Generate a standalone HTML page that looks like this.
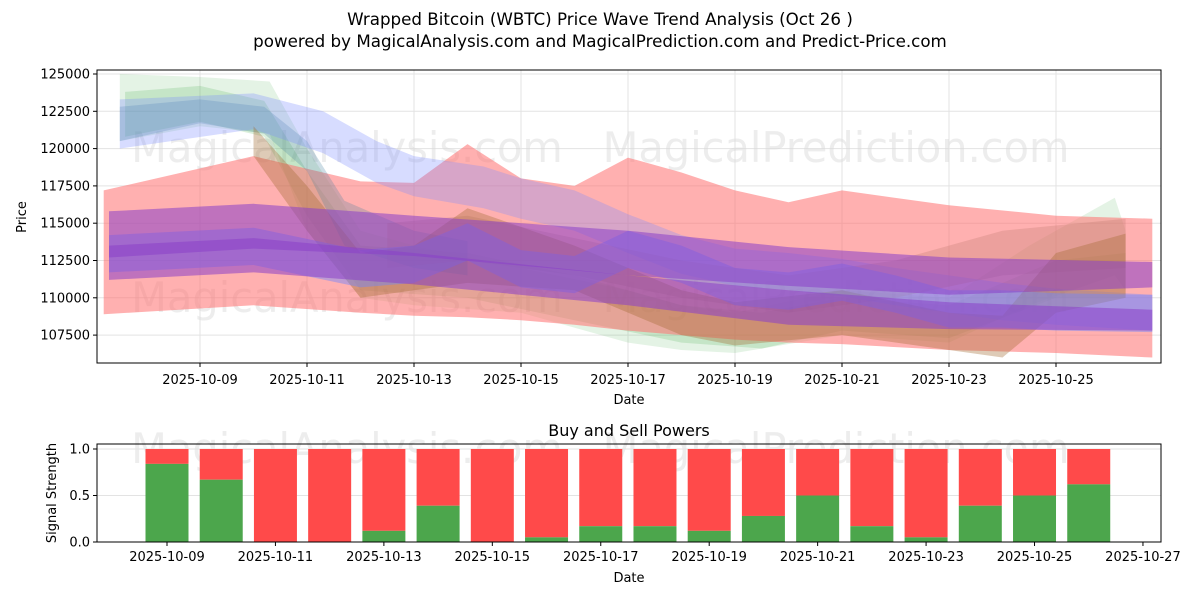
<!DOCTYPE html>
<html><head><meta charset="utf-8"><style>
body{margin:0;background:#fff;}
svg{display:block;font-family:"DejaVu Sans","Liberation Sans",sans-serif;}
</style></head><body>
<svg id="c" width="1200" height="600" xmlns="http://www.w3.org/2000/svg">
<rect width="1200" height="600" fill="#fff"/>
<text x="600" y="25" text-anchor="middle" font-size="16.7">Wrapped Bitcoin (WBTC) Price Wave Trend Analysis (Oct 26 )</text>
<text x="600" y="47" text-anchor="middle" font-size="16.7">powered by MagicalAnalysis.com and MagicalPrediction.com and Predict-Price.com</text>
<g id="topg"></g>
<g id="botg"></g>
</svg>
<script>
const NS="http://www.w3.org/2000/svg";
// ---- price chart data: [day-of-October, high, low]
const redBand=[[7.2,117200,108900],[10,119500,109500],[12,117800,109000],[13,117700,108800],[14,120300,108700],[15,118000,108500],[16,117500,108200],[17,119400,107800],[18,118400,107500],[19,117200,107200],[20,116400,107000],[21,117200,106900],[23,116200,106500],[25,115500,106300],[26.8,115300,106000]];
const blueUpper=[[7.5,123300,120000],[10,123700,121300],[11.3,122500,119700],[12.3,120500,117700],[13,119500,116800],[14.3,118800,116000],[15,118000,115300],[16,117200,114500],[17,115600,113000],[18,114200,111600],[19,113300,110800],[20,113000,110500],[21,112600,110100],[22,112000,109500],[23,111500,109000],[24,111000,108500],[25,110600,108200],[26.8,110200,107800]];
const blueLower=[[7.3,114200,111700],[10,114700,112200],[12,113200,110700],[13,113500,111000],[14,115000,112500],[15,113200,110700],[16,112800,110300],[17,114500,112000],[18,113500,111000],[19,112000,109500],[20,111700,109200],[21,112300,109800],[22,111500,109000],[23,110500,108000],[24,110500,108000],[25,110300,107800],[26.8,110200,107700]];
const purpleUpper=[[7.3,115800,112700],[10,116300,113300],[13,115500,112800],[17,114500,111500],[20,113400,110800],[23,112700,110200],[26.8,112400,110700]];
const purpleLower=[[7.3,113500,111200],[10,114000,111700],[13,113000,110900],[17,111500,109500],[20,110500,108200],[23,109700,107900],[26.8,109200,107800]];
const greenA=[[7.5,125000,120500],[9,124800,121500],[10.3,124500,121000],[11,120000,114500],[12,114500,110000],[13,113500,109500],[15,112000,109000],[17,110500,107000],[18,109500,106500],[19,109000,106300],[21,110500,107500],[23,110000,107000],[24.5,113500,109500],[26.1,116700,111500],[26.3,114500,110500]];
const greenB=[[7.6,123800,120800],[9,124200,121800],[10.2,123200,120800],[11,118500,115500],[12,113500,110500],[14,113000,110000],[16,111500,108500],[18,109500,107000],[19.5,109000,106600],[21,110000,107800],[23,109500,107300],[25,112500,110000],[26.3,113000,110000]];
const tealBand=[[7.5,122800,120500],[9,123300,121700],[10.2,122800,121000],[11,120500,118500],[11.7,116500,113500],[13,114500,112000],[14,113800,111500]];
const brownBand=[[10,121500,119500],[11,117500,114500],[12,113000,110000],[13,113500,110500],[14,116000,111000],[16,113500,110500],[18,110500,107500],[19,109700,106800],[21,110500,107500],[23,109000,106500],[24,108800,106000],[25,113000,109000],[26.3,114300,110000]];
const brownBand2=[[12.5,115000,112000],[14,115500,112500],[16,114000,111500],[18,112500,110000],[20,111500,109000],[22,112500,110000],[24,114500,111500],[26.3,115300,112000]];
const yTicks=[107500,110000,112500,115000,117500,120000,122500,125000];
const xTickDays=[9,11,13,15,17,19,21,23,25];
// ---- signal chart data
const barDays=[9,10,11,12,13,14,15,16,17,18,19,20,21,22,23,24,25,26];
const buyPower=[0.84,0.67,0,0,0.12,0.39,0,0.05,0.17,0.17,0.12,0.28,0.5,0.17,0.05,0.39,0.5,0.62];
const sigTicks=[0,0.5,1.0];
const botTickDays=[9,11,13,15,17,19,21,23,25,27];

function el(tag,attrs,parent){const e=document.createElementNS(NS,tag);for(const k in attrs)e.setAttribute(k,attrs[k]);parent.appendChild(e);return e;}
const topG=document.getElementById('topg'),botG=document.getElementById('botg');
const L=97,R=1161,T=70,B=363;
const xs=d=>200+(d-9)*53.5;
const ys=v=>74+(125000-v)*37.3/2500;
yTicks.forEach(v=>{const g=el('line',{x1:L,x2:R,y1:ys(v),y2:ys(v),stroke:'#e3e3e3','stroke-width':1},topG);
});
xTickDays.forEach(d=>{const g=el('line',{x1:xs(d),x2:xs(d),y1:T,y2:B,stroke:'#e3e3e3','stroke-width':1},topG);
});
[["MagicalAnalysis.com",347,162],["MagicalPrediction.com",836,162],["MagicalAnalysis.com",347,312],["MagicalPrediction.com",836,312]].forEach(w=>{
const t=el('text',{x:w[1],y:w[2],'text-anchor':'middle','font-size':41.5,fill:'#d8d8d8','fill-opacity':0.45},topG);t.textContent=w[0];
});
function band(data,fill,op,name){
 const up=data.map(p=>xs(p[0]).toFixed(1)+','+ys(p[1]).toFixed(1));
 const lo=data.slice().reverse().map(p=>xs(p[0]).toFixed(1)+','+ys(p[2]).toFixed(1));
 const p=el('polygon',{points:up.concat(lo).join(' '),fill:fill,'fill-opacity':op},topG);
 
}
band(greenA,'#4caf50',0.15,'green-band-a');
band(greenB,'#4caf50',0.2,'green-band-b');
band(redBand,'#ff7070',0.55,'red-band');
band(tealBand,'#3a7a9a',0.25,'teal-band');
band(blueUpper,'#7a8cff',0.3,'blue-upper-band');
band(brownBand2,'#c07a70',0.3,'brown-band-2');
band(brownBand,'#a06a30',0.35,'brown-band');
band(blueLower,'#6f86ff',0.45,'blue-lower-band');
band(purpleUpper,'#8a3fc8',0.55,'purple-upper-band');
band(purpleLower,'#8a3fc8',0.55,'purple-lower-band');
let f=el('rect',{x:L,y:T,width:R-L,height:B-T,fill:'none',stroke:'#000','stroke-width':1},topG);

yTicks.forEach(v=>{el('line',{x1:L-4,x2:L,y1:ys(v),y2:ys(v),stroke:'#000'},topG);
const t=el('text',{x:L-7,y:ys(v)+4.5,'text-anchor':'end','font-size':13},topG);t.textContent=v;
});
xTickDays.forEach(d=>{el('line',{x1:xs(d),x2:xs(d),y1:B,y2:B+4,stroke:'#000'},topG);
const t=el('text',{x:xs(d),y:B+21,'text-anchor':'middle','font-size':13},topG);t.textContent='2025-10-'+String(d).padStart(2,'0');
});
let t=el('text',{x:629,y:404,'text-anchor':'middle','font-size':13},topG);t.textContent='Date';

t=el('text',{x:26,y:217,'text-anchor':'middle','font-size':13,transform:'rotate(-90 26 217)'},topG);t.textContent='Price';


const BT=444,BB=542;
const bx=d=>167+(d-9)*54.22;
const by=v=>542-v*93;
[["MagicalAnalysis.com",347,463],["MagicalPrediction.com",836,463]].forEach(w=>{
const tt=el('text',{x:w[1],y:w[2],'text-anchor':'middle','font-size':41.5,fill:'#d8d8d8','fill-opacity':0.45},botG);tt.textContent=w[0];
});
sigTicks.forEach(v=>{const g=el('line',{x1:L,x2:R,y1:by(v),y2:by(v),stroke:'#e3e3e3'},botG);
});
barDays.forEach((d,i)=>{
 const w=43,x=bx(d)-w/2;
 const r=el('rect',{x:x,y:by(1),width:w,height:by(buyPower[i])-by(1),fill:'#ff4a4a'},botG);
 
 const g=el('rect',{x:x,y:by(buyPower[i]),width:w,height:by(0)-by(buyPower[i]),fill:'#4ca64c'},botG);
 
});
f=el('rect',{x:L,y:BT,width:R-L,height:BB-BT,fill:'none',stroke:'#000'},botG);

sigTicks.forEach(v=>{el('line',{x1:L-4,x2:L,y1:by(v),y2:by(v),stroke:'#000'},botG);
const tt=el('text',{x:L-7,y:by(v)+4.5,'text-anchor':'end','font-size':13},botG);tt.textContent=v.toFixed(1);
});
botTickDays.forEach(d=>{el('line',{x1:bx(d),x2:bx(d),y1:BB,y2:BB+4,stroke:'#000'},botG);
const tt=el('text',{x:bx(d),y:BB+19,'text-anchor':'middle','font-size':13},botG);tt.textContent='2025-10-'+String(d).padStart(2,'0');
});
t=el('text',{x:629,y:582,'text-anchor':'middle','font-size':13},botG);t.textContent='Date';

t=el('text',{x:56,y:493,'text-anchor':'middle','font-size':13,transform:'rotate(-90 56 493)'},botG);t.textContent='Signal Strength';

t=el('text',{x:629,y:436,'text-anchor':'middle','font-size':16},botG);t.textContent='Buy and Sell Powers';

</script>
</body></html>
